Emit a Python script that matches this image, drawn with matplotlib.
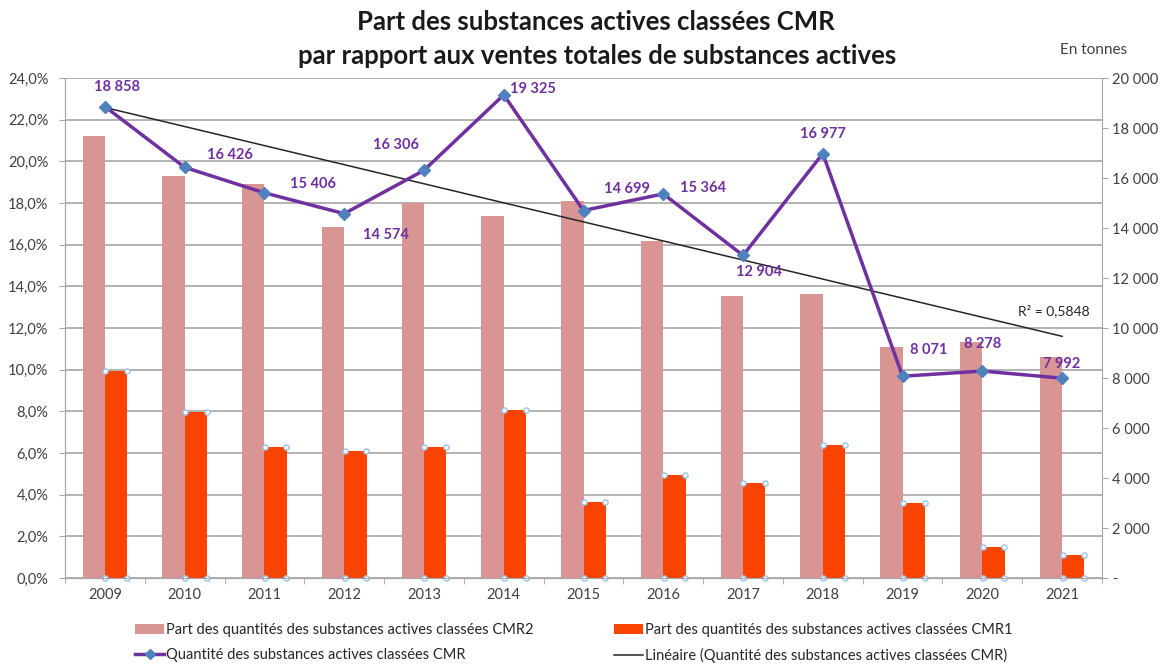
import matplotlib
matplotlib.use("Agg")
import matplotlib.pyplot as plt
import numpy as np
from matplotlib.lines import Line2D
from matplotlib.patches import Patch
from matplotlib.ticker import FuncFormatter, MultipleLocator

plt.rcParams['font.family'] = ['Lato', 'DejaVu Sans']

years = ["2009", "2010", "2011", "2012", "2013", "2014", "2015",
         "2016", "2017", "2018", "2019", "2020", "2021"]
part_cmr2 = [21.2, 19.3, 18.9, 16.85, 18.0, 17.4, 18.1, 16.2, 13.55, 13.65, 11.1, 11.35, 10.6]
part_cmr1 = [9.95, 7.95, 6.27, 6.11, 6.3, 8.07, 3.67, 4.94, 4.58, 6.37, 3.58, 1.5, 1.1]
quantite = [18858, 16426, 15406, 14574, 16306, 19325, 14699, 15364, 12904, 16977, 8071, 8278, 7992]
r2_text = "R² = 0,5848"

# label offsets in pixels (style only)
label_offsets = [(12, 20), (45, 12), (49, 9), (42, -21), (-28, 25), (29, 6), (44, 22),
                 (40, 6), (16, -17), (0, 20), (26, 26), (0, 27), (0, 14)]

W, H = 1169, 666
fig = plt.figure(figsize=(W / 100, H / 100), dpi=100)
ax = fig.add_axes([65 / W, 1 - 578 / H, (1102 - 65) / W, 500 / H])
ax2 = ax.twinx()

x = np.arange(len(years))
bw = 0.28
pink = "#D99594"
red = "#F94300"
purple = "#7030A0"
blue = "#4F81BD"
grid_c = "#A6A6A6"
txt_c = "#404040"

ax.bar(x - bw / 2, part_cmr2, width=bw, color=pink, zorder=2)
ax.bar(x + bw / 2, part_cmr1, width=bw, color=red, zorder=2)
# selection handles visible on the CMR1 bars
hx = np.concatenate([x + 0.005, x + bw - 0.005, x + 0.005, x + bw - 0.005])
hy = np.concatenate([part_cmr1, part_cmr1, np.zeros(len(x)), np.zeros(len(x))])
ax.scatter(hx, hy, s=14, facecolor="white", edgecolor="#9DC3E6", linewidth=1.0, zorder=3, clip_on=False)

ax.set_xlim(-0.5, len(years) - 0.5)
ax.set_ylim(0, 24)
ax.yaxis.set_major_locator(MultipleLocator(2))
ax.yaxis.set_major_formatter(FuncFormatter(lambda v, p: f"{v:.1f}%".replace(".", ",")))
ax.grid(axis="y", color=grid_c, linewidth=1.2, zorder=0)
ax.set_axisbelow(True)
ax.set_xticks(x)
ax.set_xticklabels(years)
ax.set_xticks(np.arange(-0.5, len(years) + 0.5, 1), minor=True)
ax.tick_params(axis="x", which="major", length=0, pad=7, labelsize=10.5, colors=txt_c)
ax.tick_params(axis="x", which="minor", length=4, color=grid_c, direction="out")
ax.tick_params(axis="y", length=4, color=grid_c, labelsize=10.5, labelcolor=txt_c, pad=8)

for a in (ax, ax2):
    a.spines["top"].set_visible(False)
    for s in ("left", "right", "bottom"):
        a.spines[s].set_color(grid_c)
ax.spines["right"].set_visible(False)

ax2.set_ylim(0, 20000)
ax2.yaxis.set_major_locator(MultipleLocator(2000))
ax2.yaxis.set_major_formatter(FuncFormatter(lambda v, p: "-" if v == 0 else f"{int(v):,}".replace(",", " ")))
ax2.tick_params(axis="y", length=4, color=grid_c, labelsize=10.5, labelcolor=txt_c, pad=3)

# linear trend
coef = np.polyfit(x, quantite, 1)
ax2.plot(x, np.polyval(coef, x), color="#262626", linewidth=1.1, zorder=3)
ax2.plot(x, quantite, color=purple, linewidth=2.5, marker="D", markersize=6,
         markerfacecolor=blue, markeredgecolor=blue, zorder=4)

for xi, q, (dx, dy) in zip(x, quantite, label_offsets):
    ax2.annotate(f"{q:,}".replace(",", " "), (xi, q), xytext=(dx * 0.72, dy * 0.72),
                 textcoords="offset points", ha="center", va="center",
                 color=purple, fontsize=10.5, fontweight="bold", zorder=5)

ax2.text(12.35, 10700, r2_text, ha="right", va="center", fontsize=10, color="#262626")

fig.text(596 / W, 1 - 22 / H, "Part des substances actives classées CMR", ha="center", va="center",
         fontsize=18.5, fontweight="bold", color="#1a1a1a")
fig.text(597 / W, 1 - 56 / H, "par rapport aux ventes totales de substances actives", ha="center",
         va="center", fontsize=18.5, fontweight="bold", color="#1a1a1a")
fig.text(1094 / W, 1 - 50 / H, "En tonnes", ha="center", va="center", fontsize=11, color=txt_c)

handles = [
    Patch(facecolor=pink, label="Part des quantités des substances actives classées CMR2"),
    Line2D([], [], color=purple, linewidth=2.5, marker="D", markersize=5, markerfacecolor=blue,
           markeredgecolor=blue, label="Quantité des substances actives classées CMR"),
    Patch(facecolor=red, label="Part des quantités des substances actives classées CMR1"),
    Line2D([], [], color="#262626", linewidth=1.1, label="Linéaire (Quantité des substances actives classées CMR)"),
]
fig.legend(handles=handles, ncol=2, loc="center", bbox_to_anchor=(574 / W, 1 - 643 / H),
           frameon=False, fontsize=10.5, handlelength=2.0, handletextpad=0.15, columnspacing=5.5,
           labelspacing=0.75, labelcolor="#262626", borderpad=0)

fig.savefig("out.png", dpi=100)
